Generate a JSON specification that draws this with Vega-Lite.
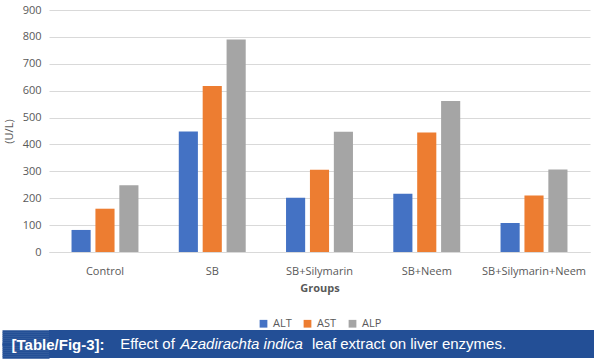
{
  "$schema": "https://vega.github.io/schema/vega-lite/v6.json",
  "background": "white",
  "padding": {"left": 0, "top": 4, "right": 0, "bottom": 0},
  "config": {
    "view": {"stroke": null},
    "font": "Open Sans",
    "axis": {"labelColor": "#595959", "titleColor": "#595959", "labelFont": "Open Sans", "titleFont": "Open Sans"},
    "legend": {"labelColor": "#595959", "labelFont": "Open Sans", "layout": {"bottom": {"anchor": "middle"}}}
  },
  "datasets": {
    "enz": [
      {"group": "Control", "enzyme": "ALT", "value": 82},
      {"group": "Control", "enzyme": "AST", "value": 161},
      {"group": "Control", "enzyme": "ALP", "value": 248},
      {"group": "SB", "enzyme": "ALT", "value": 448},
      {"group": "SB", "enzyme": "AST", "value": 617},
      {"group": "SB", "enzyme": "ALP", "value": 790},
      {"group": "SB+Silymarin", "enzyme": "ALT", "value": 202},
      {"group": "SB+Silymarin", "enzyme": "AST", "value": 306},
      {"group": "SB+Silymarin", "enzyme": "ALP", "value": 447},
      {"group": "SB+Neem", "enzyme": "ALT", "value": 217},
      {"group": "SB+Neem", "enzyme": "AST", "value": 444},
      {"group": "SB+Neem", "enzyme": "ALP", "value": 562},
      {"group": "SB+Silymarin+Neem", "enzyme": "ALT", "value": 108},
      {"group": "SB+Silymarin+Neem", "enzyme": "AST", "value": 210},
      {"group": "SB+Silymarin+Neem", "enzyme": "ALP", "value": 307}
    ],
    "banner": [{}]
  },
  "vconcat": [
    {
      "width": 541,
      "height": 242,
      "data": {"name": "enz"},
      "mark": {"type": "bar"},
      "encoding": {
        "x": {
          "field": "group", "type": "nominal",
          "sort": ["Control", "SB", "SB+Silymarin", "SB+Neem", "SB+Silymarin+Neem"],
          "scale": {"paddingInner": 0.376, "paddingOuter": 0.21},
          "title": "Groups",
          "axis": {"labelAngle": 0, "labelFontSize": 11, "labelPadding": 13, "ticks": false, "domainColor": "#d9d9d9", "titleFontSize": 11, "titleFontWeight": "bold", "titlePadding": 6}
        },
        "xOffset": {
          "field": "enzyme", "type": "nominal",
          "sort": ["ALT", "AST", "ALP"],
          "scale": {"paddingInner": 0.2, "paddingOuter": 0}
        },
        "y": {
          "field": "value", "type": "quantitative",
          "scale": {"domain": [0, 900]},
          "title": "(U/L)",
          "axis": {"values": [0, 100, 200, 300, 400, 500, 600, 700, 800, 900], "domain": false, "ticks": false, "gridColor": "#d9d9d9", "labelFontSize": 11, "labelPadding": 8, "titleFontSize": 11, "titleFontWeight": "normal", "titlePadding": 8}
        },
        "color": {
          "field": "enzyme", "type": "nominal",
          "sort": ["ALT", "AST", "ALP"],
          "scale": {"domain": ["ALT", "AST", "ALP"], "range": ["#4472C4", "#ED7D31", "#A5A5A5"]},
          "legend": {"orient": "bottom", "direction": "horizontal", "title": null, "symbolType": "square", "symbolSize": 60, "labelFontSize": 11, "columnPadding": 10, "offset": 25}
        }
      }
    },
    {
      "spacing": 0,
      "hconcat": [
        {
          "width": 70, "height": 28,
          "data": {"name": "banner"},
          "layer": [
            {"mark": {"type": "rect", "color": "#234f96"}, "encoding": {}},
            {
              "mark": {"type": "text", "text": ""},
              "encoding": {
                "y": {
                  "datum": 0, "type": "quantitative",
                  "scale": {"domain": [-1, 1]},
                  "axis": {"values": [-0.9286, -0.7857, -0.6429, -0.5, -0.3571, -0.2143, -0.0714, 0, 0.0714, 0.2143, 0.3571, 0.5, 0.6429, 0.7857, 0.9286],
                           "domain": false, "grid": false, "title": null, "zindex": 1,
                           "ticks": true, "tickSize": 47, "tickWidth": 2.6, "tickColor": "#234f96", "tickCap": "butt",
                           "labelExpr": "datum.value == 0 ? '[Table/Fig-3]:' : ''", "labelAlign": "left", "labelBaseline": "middle", "labelPadding": -9,
                           "labelFont": "Liberation Sans",
                           "labelFontSize": {"condition": {"test": "datum.value == 0", "value": 15}, "value": 0},
                           "labelFontWeight": "bold", "labelColor": "white", "labelLimit": 0, "labelOverlap": false}
                }
              }
            }
          ]
        },
        {
          "width": 57, "height": 28,
          "data": {"name": "banner"},
          "layer": [
            {"mark": {"type": "rect", "color": "#234f96"}, "encoding": {}},
            {"mark": {"type": "text", "text": "Effect of", "font": "Liberation Sans", "fontSize": 15, "color": "white", "baseline": "middle"}, "encoding": {}}
          ]
        },
        {
          "width": 131, "height": 28,
          "data": {"name": "banner"},
          "layer": [
            {"mark": {"type": "rect", "color": "#234f96"}, "encoding": {}},
            {"mark": {"type": "text", "text": "Azadirachta indica", "font": "Liberation Sans", "fontSize": 15, "fontStyle": "italic", "color": "white", "baseline": "middle"}, "encoding": {}}
          ]
        },
        {
          "width": 204, "height": 28,
          "data": {"name": "banner"},
          "layer": [
            {"mark": {"type": "rect", "color": "#234f96"}, "encoding": {}},
            {"mark": {"type": "text", "text": "leaf extract on liver enzymes.", "font": "Liberation Sans", "fontSize": 15, "color": "white", "baseline": "middle"}, "encoding": {}}
          ]
        },
        {
          "width": 83, "height": 28,
          "data": {"name": "banner"},
          "mark": {"type": "rect", "color": "#234f96"},
          "encoding": {}
        }
      ]
    }
  ],
  "spacing": 0,
  "resolve": {"legend": {"color": "independent"}}
}
